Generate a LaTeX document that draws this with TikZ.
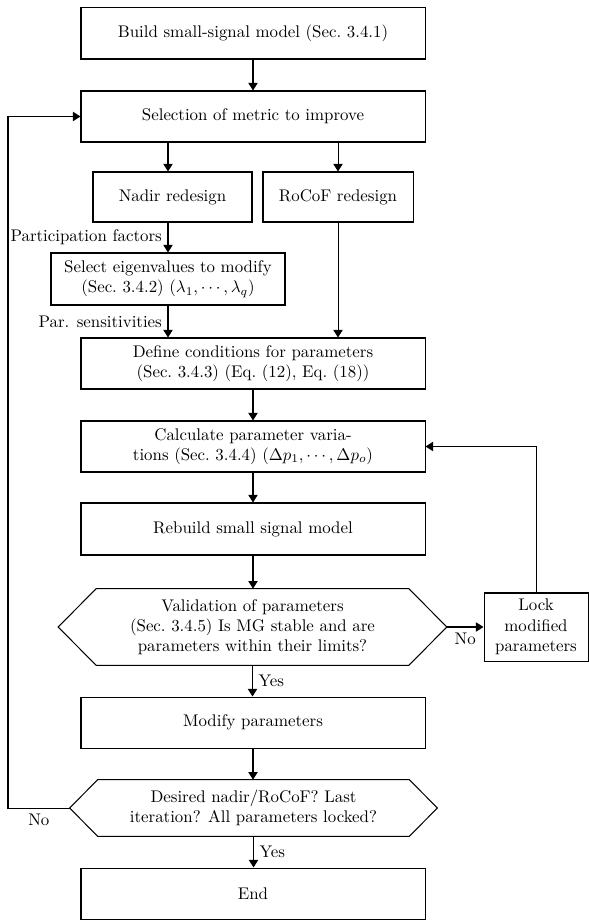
\documentclass[tikz,border=0pt]{standalone}
\usetikzlibrary{arrows.meta,calc}
\begin{document}
\begin{tikzpicture}[x=0.593pt,y=-0.593pt,
  bx/.style 2 args={draw, line width=0.6pt, align=center, inner sep=2pt,
    minimum width={#1*0.593pt}, minimum height={#2*0.593pt}},
  hexnode/.style 2 args={align=center, inner sep=2pt,
    minimum width={#1*0.593pt}, minimum height={#2*0.593pt}},
  arr/.style={-{Triangle[length=4.5pt,width=5.5pt]}, line width=0.6pt},
  ln/.style={line width=0.6pt}]
\useasboundingbox (0,0) rectangle (589,920);
\node[bx={344}{51}] (build) at (253,33.5) {Build small-signal model (Sec.~3.4.1)};
\node[bx={344}{51}] (sel) at (253,116.5) {Selection of metric to improve};
\node[bx={159}{50}] (nadir) at (172.5,197) {Nadir redesign};
\node[bx={150}{50}] (rocof) at (338,197) {RoCoF redesign};
\node[bx={234}{52}] (eig) at (168,279) {Select eigenvalues to modify\\(Sec.~3.4.2) $(\lambda_1,\cdots,\lambda_q)$};
\node[bx={344}{51}] (def) at (253,363.5) {Define conditions for parameters\\(Sec.~3.4.3) (Eq.~(12), Eq.~(18))};
\node[bx={344}{51}] (calc) at (253,446.5) {Calculate parameter varia-\\tions (Sec.~3.4.4) $(\Delta p_1,\cdots,\Delta p_o)$};
\node[bx={344}{52}] (reb) at (253,529) {Rebuild small signal model};
\node[hexnode={388}{76}] (val) at (252.5,627) {Validation of parameters\\(Sec.~3.4.5) Is MG stable and are\\parameters within their limits?};
\draw[ln] (val.west) -- ($(val.north west)+(38,0)$) -- ($(val.north east)+(-38,0)$) -- (val.east)
  -- ($(val.south east)+(-38,0)$) -- ($(val.south west)+(38,0)$) -- cycle;
\node[bx={104}{68}] (lock) at (536,627) {Lock\\modified\\parameters};
\node[bx={344}{51}] (mod) at (253,722.5) {Modify parameters};
\node[hexnode={367}{56}] (des) at (253.5,808) {Desired nadir/RoCoF? Last\\iteration? All parameters locked?};
\draw[ln] (des.west) -- ($(des.north west)+(28,0)$) -- ($(des.north east)+(-28,0)$) -- (des.east)
  -- ($(des.south east)+(-28,0)$) -- ($(des.south west)+(28,0)$) -- cycle;
\node[bx={344}{51}] (end) at (253,893.5) {End};
\coordinate (fb) at (8,808);

\draw[arr] (build) -- (sel);
\draw[arr] (eig.north |- sel.south) -- (eig.north |- nadir.north);
\draw[arr] (rocof.north |- sel.south) -- (rocof.north);
\draw[arr] (eig.north |- nadir.south) -- (eig.north) node[midway,left] {Participation factors};
\draw[arr] (eig.south) -- (eig.south |- def.north) node[midway,left] {Par. sensitivities};
\draw[arr] (rocof.south) -- (rocof.south |- def.north);
\draw[arr] (def) -- (calc);
\draw[arr] (calc) -- (reb);
\draw[arr] (reb.south) -- (reb.south |- val.north);
\draw[arr] (val.south) -- (val.south |- mod.north) node[midway,right] {Yes};
\draw[arr] (val.east) -- (lock.west) node[midway,below] {No};
\draw[arr] (lock.north) |- (calc.east);
\draw[arr] (mod.south) -- (mod.south |- des.north);
\draw[arr] (des.south) -- (des.south |- end.north) node[midway,right] {Yes};
\draw[arr] (des.west) -- (fb) node[midway,below] {No} |- (sel.west);
\end{tikzpicture}
\end{document}
